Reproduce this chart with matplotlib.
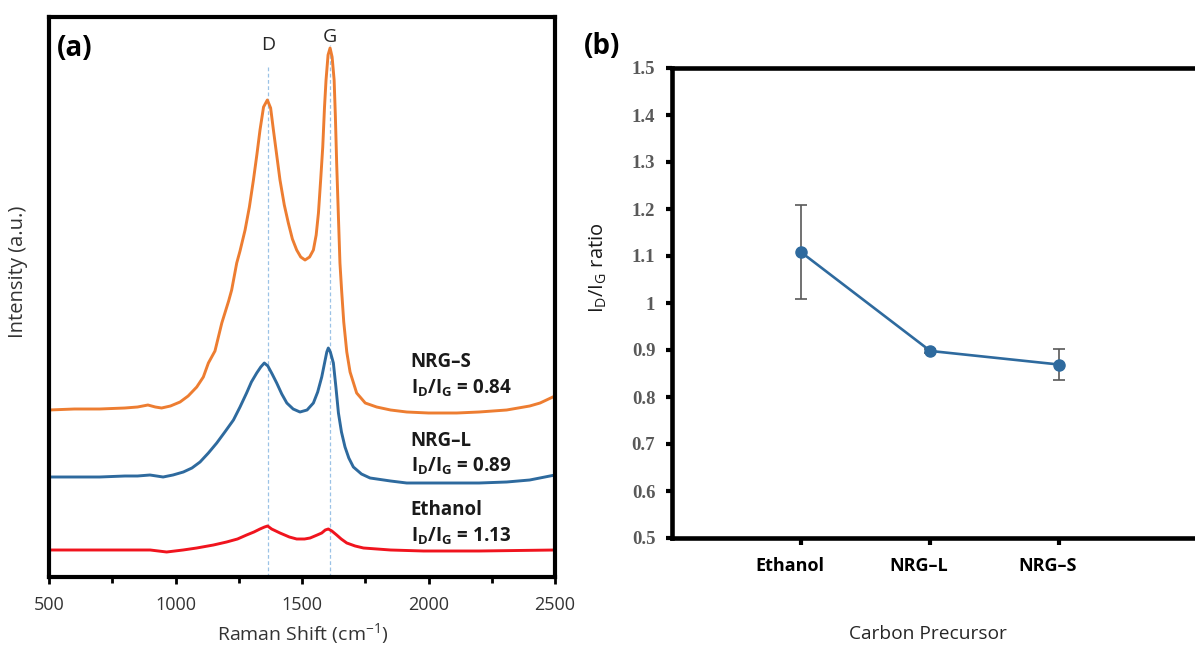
import matplotlib
matplotlib.use("Agg")
import matplotlib.pyplot as plt
from matplotlib.ticker import MultipleLocator, FixedLocator, FixedFormatter, NullFormatter

plt.rcParams['font.family'] = ['Open Sans', 'DejaVu Sans']
plt.rcParams['mathtext.fontset'] = 'custom'
plt.rcParams['mathtext.rm'] = 'Open Sans'
plt.rcParams['mathtext.bf'] = 'Open Sans:bold'
plt.rcParams['mathtext.it'] = 'Open Sans:italic'

# ---- (a) Raman spectra (a.u.)
orange_x = [500, 600, 700, 800, 850, 891, 920, 945, 980, 1018, 1050, 1084, 1110, 1130,
            1156, 1183, 1210, 1222, 1242, 1255, 1275, 1292, 1308, 1322, 1334, 1348, 1363,
            1376, 1387, 1400, 1413, 1430, 1446, 1462, 1479, 1495, 1512, 1530, 1545, 1556,
            1565, 1574, 1582, 1589, 1595, 1603, 1611, 1619, 1627, 1632, 1637, 1644, 1650,
            1657, 1665, 1677, 1690, 1716, 1750, 1795, 1850, 1914, 2000, 2112, 2200, 2309,
            2400, 2441, 2500]
orange_y = [167, 168, 168, 169, 170, 172, 170, 169, 171, 175, 181, 190, 200, 214,
            226, 254, 276, 287, 314, 326, 347, 370, 397, 423, 447, 470, 477,
            469, 447, 422, 397, 372, 354, 338, 327, 320, 317, 320, 327, 342,
            364, 398, 430, 470, 497, 522, 529, 520, 497, 460, 414, 360, 314,
            285, 255, 225, 205, 184, 174, 170, 167, 165, 164, 164, 165, 167,
            171, 174, 181]

blue_x = [500, 600, 700, 800, 850, 899, 951, 990, 1031, 1065, 1097, 1130, 1163, 1195,
          1229, 1255, 1281, 1300, 1321, 1337, 1351, 1365, 1382, 1400, 1420, 1440, 1465,
          1492, 1520, 1545, 1562, 1578, 1590, 1598, 1604, 1612, 1624, 1634, 1644, 1656,
          1670, 1685, 1703, 1735, 1769, 1850, 1914, 2112, 2200, 2309, 2400, 2500]
blue_y = [100, 100, 100, 101, 101, 102, 100, 102, 105, 109, 115, 124, 134, 145,
          157, 170, 184, 195, 204, 210, 214, 211, 203, 194, 183, 174, 168,
          165, 167, 174, 185, 200, 215, 225, 229, 225, 214, 190, 164, 145,
          130, 119, 110, 103, 99, 96, 94, 94, 94, 95, 97, 102]

red_x = [500, 700, 900, 965, 1030, 1084, 1150, 1202, 1245, 1281, 1310, 1334, 1352, 1364,
         1380, 1413, 1450, 1479, 1510, 1532, 1560, 1578, 1592, 1604, 1618, 1637, 1655,
         1677, 1710, 1743, 1850, 1980, 2200, 2500]
red_y = [27, 27, 27, 25, 27, 29, 32, 35, 38, 42, 45, 48, 50, 51,
         48, 44, 40, 38, 38, 39, 42, 44, 47, 48, 46, 42, 38,
         34, 31, 29, 27, 26, 26, 27]

band_names = ['D', 'G']
band_pos = [1365, 1612]
band_line_top = [512, 532]
band_label_y = [527, 535]

samples = ['NRG–S', 'NRG–L', 'Ethanol']
ratios_a = ['0.84', '0.89', '1.13']
label_y = [210, 131, 62]
ratio_y = [183, 105, 35]

# ---- (b) ID/IG ratio per precursor
precursors = ['Ethanol', 'NRG–L', 'NRG–S']
ratio_mean = [1.108, 0.898, 0.869]
ratio_err = [0.100, 0.004, 0.033]

c_orange = '#ED7D31'
c_blue = '#2E6A9E'
c_red = '#F0141E'

fig = plt.figure(figsize=(11.95, 6.48), dpi=100)
W, H = 1195, 648

# panel (a)
ax1 = fig.add_axes([49 / W, 1 - 577 / H, (555 - 49) / W, (577 - 17) / H])
ax1.plot(orange_x, orange_y, color=c_orange, lw=2.1)
ax1.plot(blue_x, blue_y, color=c_blue, lw=2.1)
ax1.plot(red_x, red_y, color=c_red, lw=2.1)
for name, xp, top, ly in zip(band_names, band_pos, band_line_top, band_label_y):
    ax1.plot([xp, xp], [0, top], color='#9BC2E6', lw=0.9, ls=(0, (3, 2)), zorder=1)
    ax1.text(xp, ly, name, ha='center', va='baseline', fontsize=14, color='#262626')
for s, r, ys, yr in zip(samples, ratios_a, label_y, ratio_y):
    ax1.text(1930, ys, s, fontsize=13.5, fontweight='bold', va='baseline', color='#1a1a1a')
    ax1.text(1930, yr, r'$\mathbf{I_D/I_G}$ = ' + r, fontsize=13.5, fontweight='bold',
             va='baseline', color='#1a1a1a')
ax1.set_xlim(500, 2500)
ax1.set_ylim(0, 560)
ax1.set_yticks([])
ax1.xaxis.set_major_locator(MultipleLocator(500))
ax1.xaxis.set_minor_locator(MultipleLocator(250))
ax1.tick_params(axis='x', which='major', direction='out', length=5, width=2,
                labelsize=13, pad=9, labelcolor='#333333')
ax1.tick_params(axis='x', which='minor', direction='out', length=4, width=2)
for sp in ax1.spines.values():
    sp.set_linewidth(3)

fig.text(303 / W, 1 - 634 / H, 'Raman Shift (cm$^{-1}$)', ha='center', va='center',
         fontsize=14, color='#333333')
fig.text(18 / W, 1 - 272 / H, 'Intensity (a.u.)', ha='center', va='center',
         rotation=90, fontsize=14.5, color='#333333')
fig.text(57 / W, 1 - 48 / H, '(a)', ha='left', va='center', fontsize=20, fontweight='bold')

# panel (b)
ax2 = fig.add_axes([672 / W, 1 - 538 / H, (1195 - 672) / W, (538 - 68) / H])
xpos = [1, 2, 3]
ax2.errorbar(xpos, ratio_mean, yerr=ratio_err, color=c_blue, lw=1.9, marker='o',
             markersize=8, ecolor='#595959', elinewidth=1.2, capsize=4, capthick=1.2)
ax2.set_xlim(0, 4.05)
ax2.set_ylim(0.5, 1.5)
# tick marks on the categories, labels sit a little to the left of them
ax2.xaxis.set_major_locator(FixedLocator(xpos))
ax2.xaxis.set_major_formatter(NullFormatter())
ax2.xaxis.set_minor_locator(FixedLocator([p - 0.09 for p in xpos]))
ax2.xaxis.set_minor_formatter(FixedFormatter(precursors))
ax2.tick_params(axis='x', which='major', direction='out', length=5, width=3)
ax2.tick_params(axis='x', which='minor', length=0, pad=14, labelsize=13)
for lab in ax2.get_xticklabels(minor=True):
    lab.set_fontweight('bold')
ax2.set_yticks([0.5, 0.6, 0.7, 0.8, 0.9, 1.0, 1.1, 1.2, 1.3, 1.4, 1.5])
ax2.set_yticklabels(['0.5', '0.6', '0.7', '0.8', '0.9', '1', '1.1', '1.2', '1.3', '1.4', '1.5'],
                    fontfamily='Liberation Serif', fontweight='bold', fontsize=13.5,
                    color='#595959')
ax2.tick_params(axis='y', direction='out', length=4, width=3, pad=8)
ax2.spines['right'].set_visible(False)
for sp in ['left', 'top', 'bottom']:
    ax2.spines[sp].set_linewidth(3.3)

fig.text(598 / W, 1 - 268 / H, r'I$_\mathrm{D}$/I$_\mathrm{G}$ ratio', ha='center',
         va='center', rotation=90, fontsize=14.5, color='#1a1a1a')
fig.text(928 / W, 1 - 634 / H, 'Carbon Precursor', ha='center', va='center',
         fontsize=13.8, color='#262626')
fig.text(584 / W, 1 - 47 / H, '(b)', ha='left', va='center', fontsize=20, fontweight='bold')

fig.savefig('out.png', dpi=100, facecolor='white')
